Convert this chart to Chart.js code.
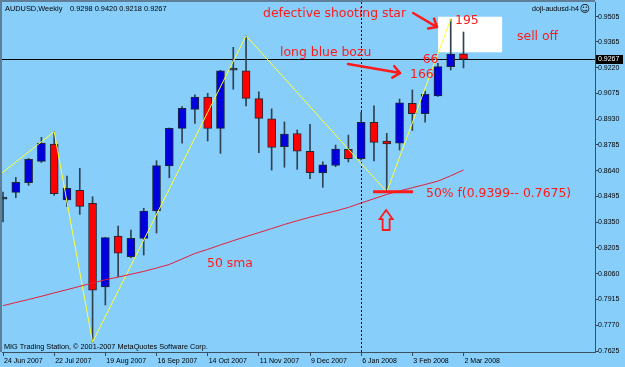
<!DOCTYPE html>
<html><head><meta charset="utf-8">
<script src="https://cdn.jsdelivr.net/npm/chart.js@4.4.0/dist/chart.umd.min.js"></script>
<style>html,body{margin:0;padding:0;background:#87cefa;overflow:hidden}canvas{display:block}</style>
</head><body>
<canvas id="c" width="625" height="367"></canvas>
<script>
// ---------- data ----------
const symbolTitle = 'AUDUSD,Weekly';
const chartName = 'doji-audusd-h4';
const footerText = 'MIG Trading Station, \u00A9 2001-2007 MetaQuotes Software Corp.';
const dateLabels = ['24 Jun 2007','22 Jul 2007','19 Aug 2007','16 Sep 2007','14 Oct 2007','11 Nov 2007','9 Dec 2007','6 Jan 2008','3 Feb 2008','2 Mar 2008'];
const dateTickIndex = [0,4,8,12,16,20,24,28,32,36];
const priceTicks = [0.9505,0.9365,0.9220,0.9075,0.8930,0.8785,0.8640,0.8495,0.8350,0.8205,0.8060,0.7915,0.7770,0.7625];

const opens  = [0.8480,0.8518,0.8572,0.8692,0.8790,0.8475,0.8529,0.8456,0.7985,0.8272,0.8156,0.8259,0.8413,0.8666,0.8878,0.8985,0.9054,0.8878,0.9206,0.9202,0.9045,0.8932,0.8775,0.8849,0.8749,0.8627,0.8669,0.8760,0.8707,0.8912,0.8807,0.8794,0.9019,0.8960,0.9060,0.9225,0.9298];
const highs  = [0.8520,0.8602,0.8709,0.8827,0.8859,0.8610,0.8653,0.8493,0.8265,0.8328,0.8306,0.8428,0.8696,0.8880,0.9000,0.9066,0.9075,0.9205,0.9334,0.9399,0.9084,0.8988,0.8914,0.8869,0.8900,0.8690,0.8784,0.8840,0.8968,0.9005,0.8850,0.9043,0.9094,0.9088,0.9244,0.9492,0.9420];
const lows   = [0.8351,0.8488,0.8557,0.8686,0.8501,0.8437,0.8394,0.7675,0.7884,0.8043,0.8150,0.8165,0.8289,0.8600,0.8794,0.8906,0.8807,0.8737,0.9098,0.9004,0.8741,0.8643,0.8659,0.8647,0.8595,0.8546,0.8662,0.8689,0.8700,0.8694,0.8521,0.8756,0.8866,0.8913,0.9058,0.9206,0.9218];
const closes = [0.8480,0.8574,0.8704,0.8794,0.8510,0.8541,0.8439,0.7967,0.8263,0.8175,0.8259,0.8413,0.8668,0.8878,0.8991,0.9054,0.8878,0.9202,0.9206,0.9047,0.8934,0.8771,0.8846,0.8749,0.8628,0.8672,0.8762,0.8707,0.8912,0.8799,0.8790,0.9022,0.8960,0.9070,0.9225,0.9296,0.9267];
const sma50  = [0.7880,0.7898,0.7915,0.7933,0.7952,0.7970,0.7989,0.8008,0.8026,0.8041,0.8057,0.8073,0.8092,0.8112,0.8143,0.8174,0.8197,0.8222,0.8246,0.8269,0.8291,0.8314,0.8337,0.8358,0.8378,0.8396,0.8413,0.8433,0.8458,0.8482,0.8506,0.8526,0.8544,0.8562,0.8581,0.8611,0.8644];
const zigzagIndex = [-0.08,4,7,19,30,35];
const zigzagValue = [0.8627,0.8859,0.7675,0.9399,0.8521,0.9492];

const indexMin = -0.08, indexMax = 46.28;
const priceMin = 0.76194, priceMax = 0.9589;
const markerIndex = 28; // dotted separator (6 Jan 2008)

// annotations, anchored in (bar index, price)
const notes = [
  {text:'defective shooting star', i:20.33, v:0.9502},
  {text:'long blue bozu', i:21.66, v:0.9285},
  {text:'sell off', i:40.19, v:0.9375},
  {text:'195', i:35.34, v:0.9468},
  {text:'66', i:32.81, v:0.9244},
  {text:'166', i:31.82, v:0.9161},
  {text:'50% f(0.9399-- 0.7675)', i:33.07, v:0.8493},
  {text:'50 sma', i:15.95, v:0.8096}
];
const arrows = [
  {i1:32.06, v1:0.9527, i2:33.93, v2:0.9448},
  {i1:26.97, v1:0.9240, i2:31.04, v2:0.9189}
];
const fibMark = {i1:28.93, i2:32.06, v:0.8521};
const whiteBox = {i1:34.01, i2:39.02, v1:0.9506, v2:0.9306};
const upArrow = {i:29.95, vTop:0.8418, vBottom:0.8306};

// ---------- build ----------
const idx = opens.map((_, k) => k);
const BLUE = '#0000dd', RED = '#ff0000', DOJI = '#1c2c3c', EDGE = '#1e2a36', WICK = '#2e4252';
const bodyColors = idx.map(k => closes[k] > opens[k] ? BLUE : (closes[k] < opens[k] ? RED : DOJI));

const px = (chart, i) => chart.scales.x.getPixelForValue(i);
const py = (chart, v) => chart.scales.y.getPixelForValue(v);

function drawArrow(ctx, x1, y1, x2, y2) {
  const ang = Math.atan2(y2 - y1, x2 - x1);
  const L = 9, a = 0.7;
  ctx.beginPath();
  ctx.moveTo(x1, y1); ctx.lineTo(x2, y2);
  ctx.moveTo(x2, y2); ctx.lineTo(x2 - L * Math.cos(ang - a), y2 - L * Math.sin(ang - a));
  ctx.moveTo(x2, y2); ctx.lineTo(x2 - L * Math.cos(ang + a), y2 - L * Math.sin(ang + a));
  ctx.stroke();
}

const decor = {
  id: 'decor',
  beforeDraw(chart) {
    const {ctx, width, height} = chart;
    ctx.save(); ctx.fillStyle = '#87cefa'; ctx.fillRect(0, 0, width, height); ctx.restore();
  },
  beforeDatasetsDraw(chart) {
    const {ctx, chartArea: a} = chart;
    ctx.save();
    // white box
    const bx1 = px(chart, whiteBox.i1), bx2 = px(chart, whiteBox.i2);
    const by1 = py(chart, whiteBox.v1), by2 = py(chart, whiteBox.v2);
    ctx.fillStyle = '#ffffff';
    ctx.fillRect(bx1, by1, bx2 - bx1, by2 - by1);
    // current price line
    const yy = Math.round(py(chart, closes[closes.length - 1])) + 0.5;
    ctx.strokeStyle = '#000'; ctx.lineWidth = 1;
    ctx.beginPath(); ctx.moveTo(a.left, yy); ctx.lineTo(a.right, yy); ctx.stroke();
    // dotted separator
    const vx = Math.round(px(chart, markerIndex)) + 0.5;
    ctx.setLineDash([2, 2]);
    ctx.beginPath(); ctx.moveTo(vx, a.top); ctx.lineTo(vx, a.bottom); ctx.stroke();
    ctx.restore();
  },
  afterDatasetsDraw(chart) {
    const {ctx} = chart;
    ctx.save();
    ctx.fillStyle = '#ff1a1a';
    ctx.strokeStyle = '#ff1a1a';
    ctx.font = '12.4px "DejaVu Sans"';
    ctx.textBaseline = 'alphabetic';
    ctx.textAlign = 'left';
    notes.forEach(n => ctx.fillText(n.text, px(chart, n.i), py(chart, n.v)));
    // arrows
    ctx.lineWidth = 2.5; ctx.lineCap = 'round';
    arrows.forEach(r => drawArrow(ctx, px(chart, r.i1), py(chart, r.v1), px(chart, r.i2), py(chart, r.v2)));
    // fib mark
    ctx.lineWidth = 3; ctx.lineCap = 'butt';
    const fy = py(chart, fibMark.v);
    ctx.beginPath(); ctx.moveTo(px(chart, fibMark.i1), fy); ctx.lineTo(px(chart, fibMark.i2), fy); ctx.stroke();
    // hollow up arrow
    const cx = px(chart, upArrow.i), t = py(chart, upArrow.vTop), b = py(chart, upArrow.vBottom);
    const hh = (b - t) * 0.45;
    ctx.lineWidth = 1.8; ctx.lineJoin = 'miter';
    ctx.beginPath();
    ctx.moveTo(cx, t);
    ctx.lineTo(cx + 6.5, t + hh); ctx.lineTo(cx + 3.5, t + hh); ctx.lineTo(cx + 3.5, b);
    ctx.lineTo(cx - 3.5, b); ctx.lineTo(cx - 3.5, t + hh); ctx.lineTo(cx - 6.5, t + hh);
    ctx.closePath(); ctx.stroke();
    ctx.restore();
  },
  afterDraw(chart) {
    const {ctx, chartArea: a} = chart;
    ctx.save();
    // frame (left/top)
    ctx.strokeStyle = '#5f7f99'; ctx.lineWidth = 2;
    ctx.beginPath(); ctx.moveTo(a.left - 1, a.bottom); ctx.lineTo(a.left - 1, a.top - 1); ctx.lineTo(a.right, a.top - 1); ctx.stroke();
    // header
    ctx.fillStyle = '#000';
    ctx.font = '7.4px "Liberation Sans"';
    ctx.textBaseline = 'alphabetic';
    ctx.fillText(symbolTitle, 5, 10.5);
    const last = opens.length - 1;
    ctx.fillText([opens[last], highs[last], lows[last], closes[last]].map(v => v.toFixed(4)).join(' '), 70, 10.5);
    ctx.font = '7.1px "Liberation Sans"';
    ctx.fillText(chartName, 532, 11);
    ctx.font = '10px "DejaVu Sans"';
    ctx.fillText('\u263A', 579.5, 12);
    ctx.font = '7.3px "Liberation Sans"';
    ctx.fillText(footerText, 4, 348.5);
    // current price label on axis
    const yy = Math.round(py(chart, closes[last]));
    ctx.fillStyle = '#000';
    ctx.fillRect(a.right + 1, yy - 4, 27, 9);
    ctx.fillStyle = '#fff';
    ctx.font = '7px "Liberation Sans"';
    ctx.textBaseline = 'middle';
    ctx.fillText(closes[last].toFixed(4), a.right + 3, yy + 0.5);
    ctx.restore();
  }
};

const chart = new Chart(document.getElementById('c'), {
  type: 'bar',
  data: {
    datasets: [
      {
        type: 'line', label: 'SMA50', order: 0,
        data: idx.map(k => ({x: k, y: sma50[k]})),
        borderColor: '#e41e3c', borderWidth: 1, pointRadius: 0, tension: 0
      },
      {
        type: 'line', label: 'ZigZag', order: 0,
        data: zigzagIndex.map((k, j) => ({x: k, y: zigzagValue[j]})),
        borderColor: '#ffff3a', borderWidth: 1, pointRadius: 0, tension: 0
      },
      {
        label: 'body', order: 1,
        data: idx.map(k => ({x: k, y: [opens[k], closes[k]]})),
        backgroundColor: bodyColors, borderColor: EDGE, borderWidth: 1, borderSkipped: false,
        barThickness: 8, maxBarThickness: 8, minBarLength: 2, grouped: false
      },
      {
        label: 'wick', order: 2,
        data: idx.map(k => ({x: k, y: [lows[k], highs[k]]})),
        backgroundColor: WICK, borderWidth: 0,
        barThickness: 1, maxBarThickness: 1, grouped: false
      }
    ]
  },
  options: {
    responsive: false, animation: false, devicePixelRatio: 1,
    layout: {padding: {left: 2, top: 2, right: 0, bottom: 0}},
    plugins: {legend: {display: false}, tooltip: {enabled: false}},
    scales: {
      x: {
        type: 'linear', min: indexMin, max: indexMax, offset: false,
        grid: {drawOnChartArea: false, drawTicks: true, tickLength: 4, color: '#34485a', offset: false},
        border: {display: true, color: '#3c5060', width: 1},
        ticks: {
          autoSkip: false, maxRotation: 0, align: 'start', padding: 1, labelOffset: 1,
          color: '#000', font: {family: 'Liberation Sans', size: 7},
          callback: (v, k) => dateLabels[k]
        },
        afterBuildTicks: s => { s.ticks = dateTickIndex.map(v => ({value: v})); },
        afterFit: s => { s.height = 15; s.paddingLeft = 0; s.paddingRight = 0; }
      },
      y: {
        type: 'linear', position: 'right', min: priceMin, max: priceMax,
        grid: {drawOnChartArea: false, drawTicks: true, tickLength: 3, color: '#34485a'},
        border: {display: true, color: '#3c5060', width: 1},
        ticks: {
          padding: 0, color: '#000', font: {family: 'Liberation Sans', size: 7},
          callback: v => Number(v).toFixed(4)
        },
        afterBuildTicks: s => { s.ticks = priceTicks.map(v => ({value: v})); },
        afterFit: s => { s.width = 30; s.paddingTop = 0; s.paddingBottom = 0; }
      }
    }
  },
  plugins: [decor]
});
</script>
</body></html>
